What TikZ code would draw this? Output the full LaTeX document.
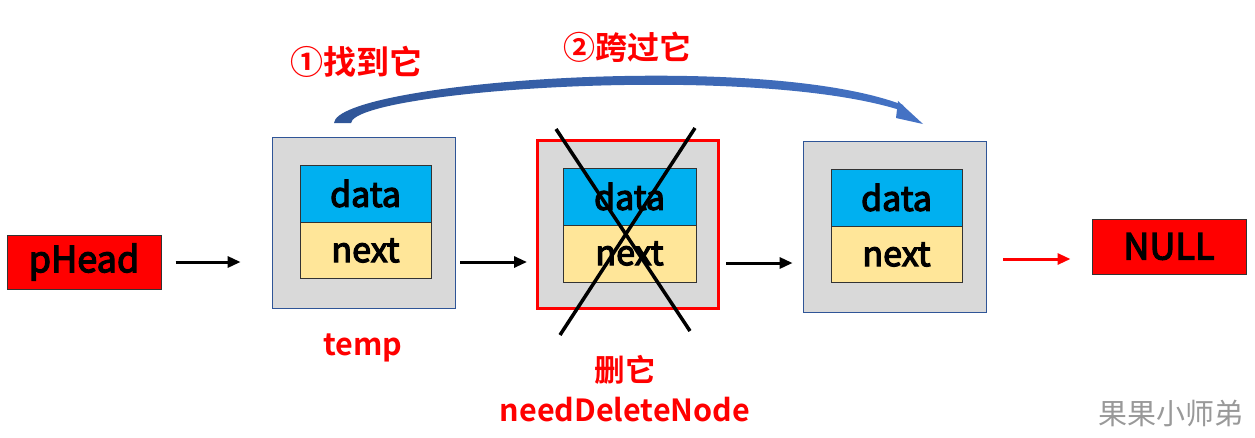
\documentclass[tikz,border=0pt]{standalone}
\usepackage{fontspec}
\setmainfont{Noto Sans CJK SC}[BoldFont={Noto Sans CJK SC Bold}]
\newfontfamily\medfont{Noto Sans CJK SC}[FakeBold=3.5]
\usetikzlibrary{arrows.meta}
\definecolor{cellblue}{HTML}{00B0F0}
\definecolor{cellyellow}{HTML}{FFE699}
\definecolor{outergray}{HTML}{D9D9D9}
\definecolor{borderblue}{HTML}{2F5597}
\definecolor{arcblue}{HTML}{4472C4}
\definecolor{arcdark}{HTML}{2F5597}
\begin{document}
\begin{tikzpicture}[x=1pt,y=-1pt,
  outerbox/.style={draw=borderblue,line width=0.8pt,fill=outergray,minimum width=183pt,minimum height=171pt,inner sep=0pt},
  datacell/.style={draw=black!80,line width=0.8pt,fill=cellblue,minimum width=131pt,minimum height=57pt,inner sep=0pt,font=\medfont\fontsize{34}{36}\selectfont},
  nextcell/.style={draw=black!80,line width=0.8pt,fill=cellyellow,minimum width=131pt,minimum height=56pt,inner sep=0pt,font=\medfont\fontsize{34}{36}\selectfont},
  redbox/.style={draw=black!80,line width=1pt,fill=red,minimum width=154pt,minimum height=54pt,inner sep=0pt,font=\medfont\fontsize{36}{38}\selectfont},
  arr/.style={line width=3pt,-{Triangle[length=13pt,width=11pt]}},
  redlabel/.style={text=red,font=\bfseries\fontsize{30.5}{32}\selectfont,inner sep=0pt},
  crossline/.style={line width=3.5pt,black}
]
\useasboundingbox (0,0) rectangle (1255,437);
% pHead
\node[redbox] (phead) at (84,262) {pHead};
% node 1
\node[outerbox] (n1) at (363.5,222.5) {};
\node[datacell] (d1) at (365.5,193.5) {data};
\node[nextcell] (x1) at (365.5,250.5) {next};
% node 2
\node[outerbox,draw=red,line width=3pt,minimum width=181pt,minimum height=168pt] (n2) at (628,224.5) {};
\node[datacell,minimum width=133pt] (d2) at (629.5,196.5) {data};
\node[nextcell,minimum width=133pt,minimum height=57pt] (x2) at (629.5,253.5) {next};
% node 3
\node[outerbox] (n3) at (894.5,226.5) {};
\node[datacell] (d3) at (896.5,197.5) {data};
\node[nextcell] (x3) at (896.5,254.5) {next};
% NULL
\node[redbox,minimum height=55pt] (null) at (1169,246.5) {NULL};
% cross
\coordinate (c1a) at (556,129);
\coordinate (c1b) at (690,331);
\coordinate (c2a) at (695,128);
\coordinate (c2b) at (560,335);
\draw[crossline] (c1a) -- (c1b);
\draw[crossline] (c2a) -- (c2b);
% arrows
\draw[arr] ([xshift=14pt]phead.east) -- ([xshift=-31pt]n1.west |- phead.east);
\draw[arr] ([xshift=5pt]n1.east |- phead.east) -- ([xshift=-9pt]n2.west |- phead.east);
\draw[arr] ([xshift=6pt]n2.east |- 0,263) -- ([xshift=-10pt]n3.west |- 0,263);
\draw[arr,red] ([xshift=17pt]n3.east |- 0,259) -- ([xshift=-21pt]null.west |- 0,259);
% labels
\node[redlabel] (tmp) at (363,348) {temp};
\node[redlabel] (del) at (625,370) {删它};
\node[redlabel] (ndn) at (625,410) {needDeleteNode};
\node[redlabel,font=\bfseries\fontsize{33}{34}\selectfont] (find) at (356,62) {①找到它};
\node[redlabel,font=\bfseries\fontsize{32}{34}\selectfont] (skip) at (627,47) {②跨过它};
% arc
\shade[left color=arcdark,right color=arcblue] (334,123) .. controls (337,82) and (760,50) .. (903,105)
  -- (906,112) .. controls (760,62) and (355,90) .. (351,123) -- cycle;
\fill[arcblue] (898,101) -- (923,124) -- (896,118) -- cycle;
% watermark
\node[text=black!40,font=\fontsize{29}{30}\selectfont,inner sep=0pt] (wm) at (1171,413) {果果小师弟};
\end{tikzpicture}
\end{document}
